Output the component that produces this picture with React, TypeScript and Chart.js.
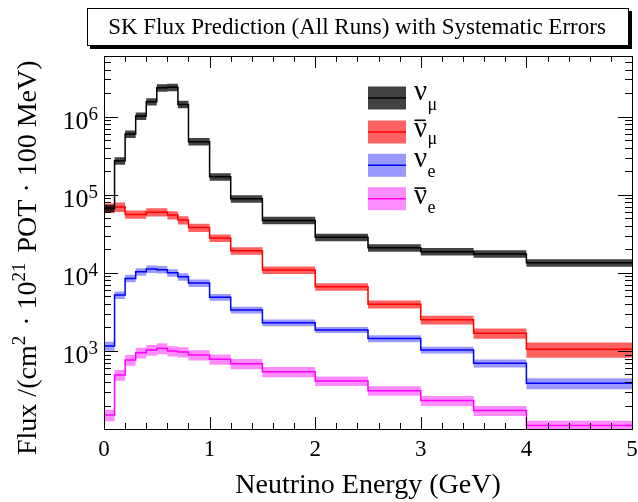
import React, { useEffect, useRef } from "react";
import { Chart, registerables } from "chart.js";

Chart.register(...registerables);

const binEdges = [0, 0.1, 0.2, 0.3, 0.4, 0.5, 0.6, 0.7, 0.8, 1.0, 1.2, 1.5, 2.0, 2.5, 3.0, 3.5, 4.0, 5.0];

const numu = [6.7e4, 2.73e5, 6.0e5, 1.02e6, 1.56e6, 2.35e6, 2.38e6, 1.44e6, 4.8e5, 1.7e5, 8.9e4, 4.7e4, 2.86e4, 2.1e4, 1.87e4, 1.75e4, 1.35e4];
const numuErr = [0.11, 0.11, 0.11, 0.11, 0.11, 0.11, 0.11, 0.11, 0.11, 0.11, 0.11, 0.11, 0.11, 0.11, 0.11, 0.11, 0.11];

const numubar = [6.8e4, 7.0e4, 5.6e4, 5.6e4, 6.0e4, 6.0e4, 5.5e4, 4.75e4, 3.8e4, 2.8e4, 1.92e4, 1.09e4, 6.65e3, 3.96e3, 2.5e3, 1.68e3, 1.05e3];
const numubarErr = [0.14, 0.14, 0.12, 0.12, 0.12, 0.12, 0.12, 0.12, 0.12, 0.11, 0.11, 0.11, 0.11, 0.12, 0.13, 0.15, 0.22];

const nue = [1.16e3, 5.2e3, 8.5e3, 1.035e4, 1.12e4, 1.1e4, 1.0e4, 8.9e3, 7.4e3, 4.87e3, 3.35e3, 2.3e3, 1.86e3, 1.44e3, 1.03e3, 695, 385];
const nueErr = [0.13, 0.11, 0.11, 0.11, 0.11, 0.11, 0.11, 0.11, 0.11, 0.1, 0.1, 0.1, 0.09, 0.1, 0.1, 0.12, 0.16];

const nuebar = [151, 493, 767, 950, 1030, 1080, 1000, 970, 889, 784, 687, 543, 413, 310, 231, 172, 111];
const nuebarErr = [0.17, 0.16, 0.16, 0.16, 0.16, 0.16, 0.15, 0.15, 0.15, 0.15, 0.15, 0.15, 0.14, 0.14, 0.15, 0.15, 0.15];

const xTickLabels = ["0", "1", "2", "3", "4", "5"];
const yDecades = [3, 4, 5, 6];

const titleText = "SK Flux Prediction (All Runs) with Systematic Errors";
const xTitle = "Neutrino Energy (GeV)";

const FONT = "'Liberation Serif', 'Times New Roman', serif";

type Flavor = {
  key: string;
  values: number[];
  err: number[];
  line: string;
  band: string;
  sub: string;
  anti: boolean;
};

const flavors: Flavor[] = [
  { key: "numu", values: numu, err: numuErr, line: "#000000", band: "rgba(0,0,0,0.74)", sub: "μ", anti: false },
  { key: "numubar", values: numubar, err: numubarErr, line: "#ff0000", band: "rgba(255,0,0,0.62)", sub: "μ", anti: true },
  { key: "nue", values: nue, err: nueErr, line: "#0000ff", band: "rgba(0,0,255,0.4)", sub: "e", anti: false },
  { key: "nuebar", values: nuebar, err: nuebarErr, line: "#ff00ff", band: "rgba(255,0,255,0.45)", sub: "e", anti: true },
];

function stepPoints(vals: number[]) {
  return binEdges.map((e, i) => ({ x: e, y: vals[Math.min(i, vals.length - 1)] }));
}

type Run = { t: string; size: number; dy: number; gap?: number };

function drawRuns(ctx: CanvasRenderingContext2D, runs: Run[], x: number, y: number) {
  let cx = x;
  for (const r of runs) {
    ctx.font = `${r.size}px ${FONT}`;
    ctx.fillText(r.t, cx, y + r.dy);
    cx += ctx.measureText(r.t).width + (r.gap || 0);
  }
  return cx - x;
}

function runsWidth(ctx: CanvasRenderingContext2D, runs: Run[]) {
  let w = 0;
  for (const r of runs) {
    ctx.font = `${r.size}px ${FONT}`;
    w += ctx.measureText(r.t).width + (r.gap || 0);
  }
  return w;
}

const decorPlugin = {
  id: "rootDecor",
  afterDraw(chart: any) {
    const ctx: CanvasRenderingContext2D = chart.ctx;
    const { left, right, top, bottom } = chart.chartArea;
    const xs = chart.scales.x;
    const ys = chart.scales.y;
    ctx.save();
    ctx.strokeStyle = "#000";
    ctx.fillStyle = "#000";
    ctx.lineWidth = 1;

    // frame
    ctx.strokeRect(Math.round(left) + 0.5, Math.round(top) + 0.5, Math.round(right - left), Math.round(bottom - top));

    // x ticks
    ctx.beginPath();
    for (let k = 0; k <= 25; k++) {
      const v = k * 0.2;
      const px = Math.round(xs.getPixelForValue(v)) + 0.5;
      const len = k % 5 === 0 ? 12 : 6;
      ctx.moveTo(px, bottom);
      ctx.lineTo(px, bottom - len);
      ctx.moveTo(px, top);
      ctx.lineTo(px, top + len);
    }
    // y ticks
    for (let d = 2; d <= 6; d++) {
      for (let m = 1; m <= 9; m++) {
        const v = m * Math.pow(10, d);
        if (v < 100 || v > 6e6) continue;
        const py = Math.round(ys.getPixelForValue(v)) + 0.5;
        const len = m === 1 ? 14 : 7;
        ctx.moveTo(left, py);
        ctx.lineTo(left + len, py);
        ctx.moveTo(right, py);
        ctx.lineTo(right - len, py);
      }
    }
    ctx.stroke();

    // x tick labels
    ctx.textBaseline = "alphabetic";
    ctx.textAlign = "center";
    ctx.font = `23px ${FONT}`;
    xTickLabels.forEach((lab) => {
      const px = xs.getPixelForValue(Number(lab));
      ctx.fillText(lab, px, 456);
    });

    // y tick labels
    ctx.textAlign = "left";
    yDecades.forEach((d) => {
      const py = ys.getPixelForValue(Math.pow(10, d));
      const runs: Run[] = [
        { t: "10", size: 26, dy: 12.5 },
        { t: String(d), size: 19, dy: 3 },
      ];
      const w = runsWidth(ctx, runs);
      drawRuns(ctx, runs, 98 - w, py);
    });

    // x title
    ctx.textAlign = "center";
    ctx.font = `28px ${FONT}`;
    ctx.fillText(xTitle, (left + right) / 2, 493);

    // y title
    ctx.save();
    ctx.translate(36, 455);
    ctx.rotate(-Math.PI / 2);
    ctx.textAlign = "left";
    const yRuns: Run[] = [
      { t: "Flux /(cm", size: 28, dy: 0 },
      { t: "2", size: 19, dy: -11, gap: 3 },
      { t: " · 10", size: 28, dy: 0 },
      { t: "21", size: 19, dy: -11, gap: 3 },
      { t: " POT · 100 MeV)", size: 28, dy: 0 },
    ];
    drawRuns(ctx, yRuns, 0, 0);
    ctx.restore();

    // title box with shadow
    const bx = 87, by = 8, bw = 542, bh = 38;
    ctx.fillStyle = "#000";
    ctx.fillRect(bx + 3, by + 3, bw, bh);
    ctx.fillStyle = "#fff";
    ctx.fillRect(bx, by, bw, bh);
    ctx.strokeStyle = "#000";
    ctx.strokeRect(bx + 0.5, by + 0.5, bw - 1, bh - 1);
    ctx.fillStyle = "#000";
    ctx.textAlign = "center";
    ctx.font = `23px ${FONT}`;
    ctx.fillText(titleText, bx + bw / 2 - 1, 33.5);

    // legend
    const rows = [
      { c: 98, nuBl: 100, subBl: 110 },
      { c: 132, nuBl: 136.5, subBl: 144 },
      { c: 165.3, nuBl: 166.7, subBl: 176.5 },
      { c: 198.7, nuBl: 204.3, subBl: 213.3 },
    ];
    ctx.textAlign = "left";
    flavors.forEach((f, i) => {
      const r = rows[i];
      const lx = 368, lw = 38, lh = 23;
      ctx.fillStyle = f.band;
      ctx.fillRect(lx, r.c - lh / 2, lw, lh);
      ctx.strokeStyle = f.line;
      ctx.lineWidth = 1.5;
      ctx.beginPath();
      ctx.moveTo(lx, r.c);
      ctx.lineTo(lx + lw, r.c);
      ctx.stroke();
      ctx.fillStyle = "#000";
      ctx.font = `29px ${FONT}`;
      ctx.fillText("ν", 414, r.nuBl);
      const nw = ctx.measureText("ν").width;
      if (f.anti) {
        ctx.fillRect(414.5, r.nuBl - 17, nw - 2, 1.6);
      }
      ctx.font = `18px ${FONT}`;
      ctx.fillText(f.sub, 414 + nw + 0.5, r.subBl);
    });

    ctx.restore();
  },
};

export default function App() {
  const ref = useRef<HTMLCanvasElement | null>(null);

  useEffect(() => {
    if (!ref.current) return;
    const datasets: any[] = [];
    flavors.forEach((f) => {
      const up = f.values.map((v, i) => v * (1 + f.err[i]));
      const lo = f.values.map((v, i) => v * (1 - f.err[i]));
      datasets.push({
        label: f.key,
        data: stepPoints(f.values),
        stepped: true,
        borderColor: f.line,
        borderWidth: 1.5,
        pointRadius: 0,
        fill: false,
      });
      datasets.push({
        label: f.key + " up",
        data: stepPoints(up),
        stepped: true,
        borderWidth: 0,
        borderColor: "rgba(0,0,0,0)",
        backgroundColor: f.band,
        pointRadius: 0,
        fill: "+1",
      });
      datasets.push({
        label: f.key + " lo",
        data: stepPoints(lo),
        stepped: true,
        borderWidth: 0,
        borderColor: "rgba(0,0,0,0)",
        pointRadius: 0,
        fill: false,
      });
    });

    const chart = new Chart(ref.current, {
      type: "line",
      data: { datasets },
      options: {
        animation: false,
        responsive: false,
        devicePixelRatio: 1,
        layout: { padding: { left: 104, right: 6, top: 56, bottom: 73 } },
        plugins: {
          legend: { display: false },
          tooltip: { enabled: false },
          title: { display: false },
        },
        scales: {
          x: { type: "linear", min: 0, max: 5, display: false },
          y: { type: "logarithmic", min: 100, max: 6e6, display: false },
        },
      },
      plugins: [decorPlugin],
    } as any);
    return () => chart.destroy();
  }, []);

  return (
    <div style={{ position: "fixed", left: 0, top: 0, width: 638, height: 502, background: "#fff" }}>
      <canvas ref={ref} width={638} height={502} style={{ width: 638, height: 502, display: "block" }} />
    </div>
  );
}
